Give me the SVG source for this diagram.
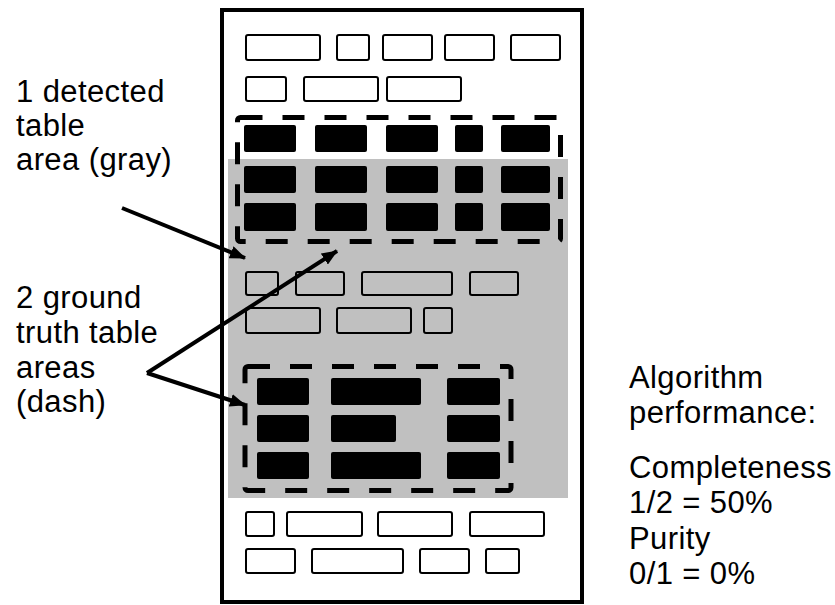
<svg xmlns="http://www.w3.org/2000/svg" width="835" height="605" viewBox="0 0 835 605">
<defs>
<style>
.lbl{font-family:"Liberation Sans",Arial,sans-serif;font-size:31px;fill:#000;letter-spacing:0.4px}
.ob{fill:none;stroke:#000;stroke-width:2}
.bb{fill:#000}
.dash{fill:none;stroke:#000;stroke-width:5;stroke-dasharray:22 20}
.arr{fill:none;stroke:#000;stroke-width:4;marker-end:url(#ah)}
</style>
<marker id="ah" markerUnits="userSpaceOnUse" markerWidth="16" markerHeight="13" refX="15" refY="6.5" orient="auto">
<path d="M0,0 L16,6.5 L0,13 z" fill="#000"/>
</marker>
</defs>
<rect x="0" y="0" width="835" height="605" fill="#fff"/>
<g id="page">
<rect x="222" y="10" width="360" height="592" fill="#fff" stroke="#000" stroke-width="4"/>
</g>
<g id="detected-area">
<rect x="228" y="159" width="340" height="339" fill="#c0c0c0"/>
</g>
<g id="text-blocks-top">
<rect class="ob" x="246" y="35" width="74" height="25" rx="2"/>
<rect class="ob" x="337" y="35" width="32" height="25" rx="2"/>
<rect class="ob" x="383" y="35" width="49" height="25" rx="2"/>
<rect class="ob" x="445" y="35" width="49" height="25" rx="2"/>
<rect class="ob" x="511" y="35" width="49" height="25" rx="2"/>
<rect class="ob" x="246" y="77" width="40" height="24" rx="2"/>
<rect class="ob" x="304" y="77" width="74" height="24" rx="2"/>
<rect class="ob" x="387" y="77" width="74" height="24" rx="2"/>
</g>
<g id="table-1-cells">
<rect class="bb" x="244" y="125" width="52" height="27" rx="2"/>
<rect class="bb" x="315" y="125" width="52" height="27" rx="2"/>
<rect class="bb" x="386" y="125" width="52" height="27" rx="2"/>
<rect class="bb" x="455" y="125" width="28" height="27" rx="2"/>
<rect class="bb" x="501" y="125" width="49" height="27" rx="2"/>
<rect class="bb" x="244" y="166" width="52" height="27" rx="2"/>
<rect class="bb" x="315" y="166" width="52" height="27" rx="2"/>
<rect class="bb" x="386" y="166" width="52" height="27" rx="2"/>
<rect class="bb" x="455" y="166" width="28" height="27" rx="2"/>
<rect class="bb" x="501" y="166" width="49" height="27" rx="2"/>
<rect class="bb" x="244" y="203" width="52" height="28" rx="2"/>
<rect class="bb" x="315" y="203" width="52" height="28" rx="2"/>
<rect class="bb" x="386" y="203" width="52" height="28" rx="2"/>
<rect class="bb" x="455" y="203" width="28" height="28" rx="2"/>
<rect class="bb" x="501" y="203" width="49" height="28" rx="2"/>
</g>
<g id="text-blocks-middle">
<rect class="ob" x="246" y="272" width="32" height="23" rx="2"/>
<rect class="ob" x="296" y="272" width="48" height="23" rx="2"/>
<rect class="ob" x="362" y="272" width="90" height="23" rx="2"/>
<rect class="ob" x="470" y="272" width="48" height="23" rx="2"/>
<rect class="ob" x="246" y="308" width="74" height="25" rx="2"/>
<rect class="ob" x="337" y="308" width="74" height="25" rx="2"/>
<rect class="ob" x="424" y="308" width="28" height="25" rx="2"/>
</g>
<g id="table-2-cells">
<rect class="bb" x="257" y="378" width="52" height="27" rx="2"/>
<rect class="bb" x="331" y="378" width="90" height="27" rx="2"/>
<rect class="bb" x="447" y="378" width="53" height="27" rx="2"/>
<rect class="bb" x="257" y="415" width="52" height="27" rx="2"/>
<rect class="bb" x="331" y="415" width="65" height="27" rx="2"/>
<rect class="bb" x="447" y="415" width="53" height="27" rx="2"/>
<rect class="bb" x="257" y="452" width="52" height="27" rx="2"/>
<rect class="bb" x="331" y="452" width="90" height="27" rx="2"/>
<rect class="bb" x="447" y="452" width="53" height="27" rx="2"/>
</g>
<g id="text-blocks-bottom">
<rect class="ob" x="246" y="512" width="28" height="24" rx="2"/>
<rect class="ob" x="287" y="512" width="75" height="24" rx="2"/>
<rect class="ob" x="378" y="512" width="74" height="24" rx="2"/>
<rect class="ob" x="470" y="512" width="74" height="24" rx="2"/>
<rect class="ob" x="246" y="549" width="49" height="24" rx="2"/>
<rect class="ob" x="312" y="549" width="91" height="24" rx="2"/>
<rect class="ob" x="420" y="549" width="49" height="24" rx="2"/>
<rect class="ob" x="486" y="549" width="33" height="24" rx="2"/>
</g>
<g id="ground-truth-1">
<rect class="dash" x="237.5" y="117.5" width="323" height="124" rx="3"/>
</g>
<g id="ground-truth-2">
<rect class="dash" x="245" y="366.5" width="266" height="124" rx="3"/>
</g>
<g id="connectors">
<path class="arr" d="M122,208 L245,258"/>
<path class="arr" d="M147,373 L337,251"/>
<path class="arr" d="M147,373 L245,405"/>
</g>
<g id="label-detected">
<text class="lbl" x="16" y="102">1 detected</text>
<text class="lbl" x="16" y="136">table</text>
<text class="lbl" x="16" y="170">area (gray)</text>
</g>
<g id="label-ground-truth">
<text class="lbl" x="16" y="308">2 ground</text>
<text class="lbl" x="16" y="343">truth table</text>
<text class="lbl" x="16" y="378">areas</text>
<text class="lbl" x="16" y="412">(dash)</text>
</g>
<g id="label-performance">
<text class="lbl" x="629" y="388">Algorithm</text>
<text class="lbl" x="629" y="423">performance:</text>
<text class="lbl" x="629" y="478">Completeness</text>
<text class="lbl" x="629" y="513">1/2 = 50%</text>
<text class="lbl" x="629" y="549">Purity</text>
<text class="lbl" x="629" y="584">0/1 = 0%</text>
</g>
</svg>
